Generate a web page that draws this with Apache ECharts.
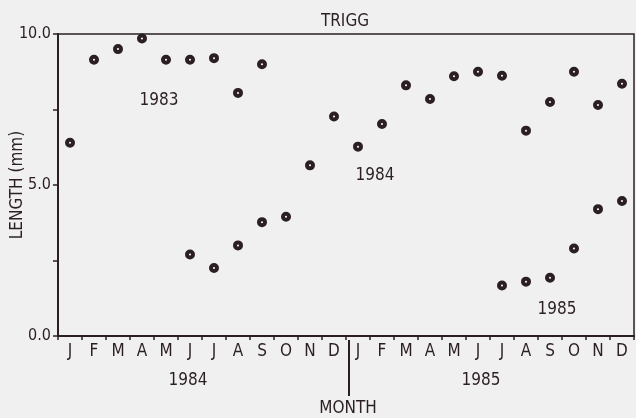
<!DOCTYPE html>
<html>
<head>
<meta charset="utf-8">
<script src="https://cdn.jsdelivr.net/npm/echarts@6/dist/echarts.min.js"></script>
<style>
html,body{margin:0;padding:0;background:#f0f0f0;}
#c{width:636px;height:418px;}
</style>
</head>
<body>
<div id="c"></div>
<script>
const months = ['J','F','M','A','M','J','J','A','S','O','N','D','J','F','M','A','M','J','J','A','S','O','N','D'];
const yTicks = [0, 2.5, 5, 7.5, 10];
const cohort1983 = [6.4, 9.15, 9.5, 9.85, 9.15, 9.15, 9.2, 8.05, 9.0, '-', '-', '-', '-', '-', '-', '-', '-', '-', '-', '-', '-', '-', '-', '-'];
const cohort1984 = ['-', '-', '-', '-', '-', 2.7, 2.25, 3.0, 3.77, 3.95, 5.65, 7.27, 6.27, 7.02, 8.3, 7.85, 8.6, 8.75, 8.62, 6.8, 7.75, 8.75, 7.65, 8.35];
const cohort1985 = ['-', '-', '-', '-', '-', '-', '-', '-', '-', '-', '-', '-', '-', '-', '-', '-', '-', '-', 1.67, 1.8, 1.93, 2.9, 4.2, 4.47];
const yearLabels = ['1984', '1985'];
const cohortLabels = ['1983', '1984', '1985'];

const ink = '#2b1f22';
const font = '"DejaVu Sans Condensed", "DejaVu Sans"';
const f17 = '17px "DejaVu Sans Condensed", "DejaVu Sans"';
const marker = {
  type: 'scatter', symbol: 'circle', symbolSize: 6,
  itemStyle: { color: '#ffffff', borderColor: ink, borderWidth: 4, opacity: 1 },
  emphasis: { disabled: true }
};

const chart = echarts.init(document.getElementById('c'), null, { renderer: 'canvas' });
chart.setOption({
  backgroundColor: '#f0f0f0',
  animation: false,
  title: {
    text: 'TRIGG', left: 340, top: 8, textAlign: 'center',
    textStyle: { fontFamily: font, fontSize: 17, fontWeight: 'normal', color: ink }
  },
  grid: { left: 58, right: 2, top: 34, bottom: 82, containLabel: false, outerBoundsMode: 'none', show: true, borderColor: ink, borderWidth: 1.5, backgroundColor: 'transparent' },
  xAxis: {
    type: 'category', data: months, boundaryGap: true,
    axisLine: { lineStyle: { color: ink, width: 2 } },
    axisTick: { show: true, length: 4, lineStyle: { color: ink, width: 1.5 }, interval: 0 },
    axisLabel: { interval: 0, margin: 7, fontFamily: font, fontSize: 17, color: ink }
  },
  yAxis: {
    type: 'value', min: 0, max: 10, interval: 2.5,
    axisLine: { show: true, lineStyle: { color: ink, width: 2 } },
    axisTick: { show: true, length: 5, lineStyle: { color: ink, width: 1.5 } },
    splitLine: { show: false },
    axisLabel: {
      margin: 7, fontFamily: font, fontSize: 16, color: ink,
      formatter: v => (v % 5 === 0 ? v.toFixed(1) : '')
    }
  },
  series: [
    Object.assign({ name: cohortLabels[0], data: cohort1983 }, marker),
    Object.assign({ name: cohortLabels[1], data: cohort1984 }, marker),
    Object.assign({ name: cohortLabels[2], data: cohort1985 }, marker)
  ],
  graphic: [
    { type: 'text', x: 18, y: 185, rotation: Math.PI / 2, style: { text: 'LENGTH (mm)', font: f17, fill: ink, align: 'center', verticalAlign: 'middle' } },
    { type: 'text', x: 159, y: 101, style: { text: cohortLabels[0], font: f17, fill: ink, align: 'center', verticalAlign: 'middle' } },
    { type: 'text', x: 375, y: 176, style: { text: cohortLabels[1], font: f17, fill: ink, align: 'center', verticalAlign: 'middle' } },
    { type: 'text', x: 557, y: 310, style: { text: cohortLabels[2], font: f17, fill: ink, align: 'center', verticalAlign: 'middle' } },
    { type: 'text', x: 188, y: 381, style: { text: yearLabels[0], font: f17, fill: ink, align: 'center', verticalAlign: 'middle' } },
    { type: 'text', x: 481, y: 381, style: { text: yearLabels[1], font: f17, fill: ink, align: 'center', verticalAlign: 'middle' } },
    { type: 'text', x: 348, y: 409, style: { text: 'MONTH', font: f17, fill: ink, align: 'center', verticalAlign: 'middle' } },
    { type: 'line', shape: { x1: 349, y1: 340, x2: 349, y2: 396 }, style: { stroke: ink, lineWidth: 2 } }
  ]
});
</script>
</body>
</html>
